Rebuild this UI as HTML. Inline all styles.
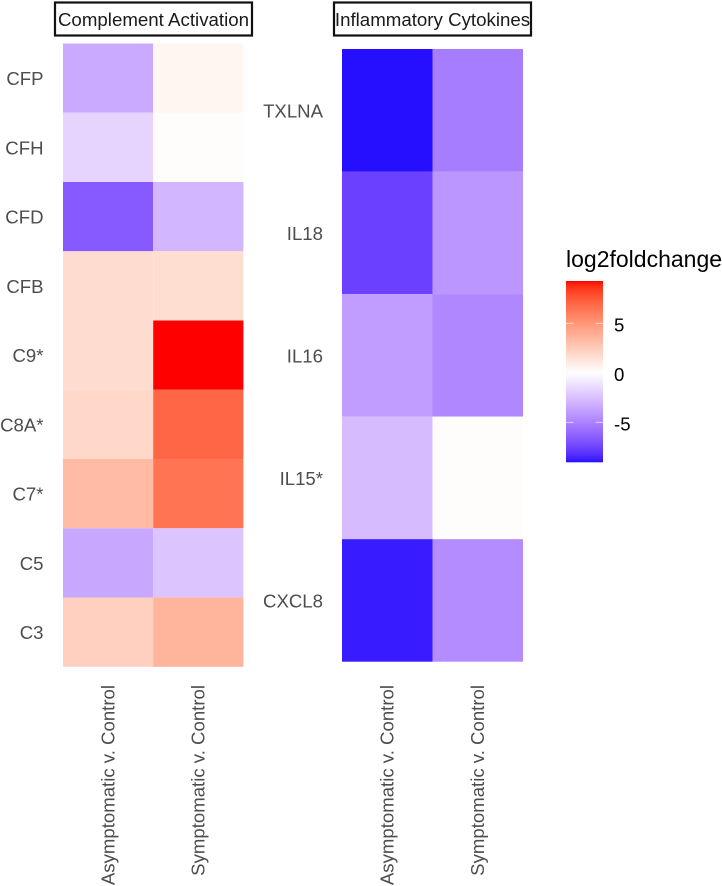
<!DOCTYPE html>
<html lang="en">
<head>
<meta charset="utf-8">
<title>Complement Activation and Inflammatory Cytokines heatmap</title>
<style>
  html, body { margin: 0; padding: 0; background: #fff; }
  #chart { display: block; width: 722px; height: 886px; font-family: "Liberation Sans", Arial, sans-serif; }
</style>
</head>
<body>
<svg id="chart" xmlns="http://www.w3.org/2000/svg" width="722" height="886" viewBox="0 0 722 886"></svg>
<script>
const comparisons = ['Asymptomatic v. Control', 'Symptomatic v. Control'];
const complementGenes = ['CFP', 'CFH', 'CFD', 'CFB', 'C9*', 'C8A*', 'C7*', 'C5', 'C3'];
const complementAsymptomatic = [-3.4, -1.7, -6.6, 1.7, 1.7, 1.9, 3.3, -3.5, 2.3];
const complementSymptomatic = [0.5, 0.1, -2.9, 1.6, 9.27, 7.0, 6.4, -2.3, 3.6];
const cytokineGenes = ['TXLNA', 'IL18', 'IL16', 'IL15*', 'CXCL8'];
const cytokineAsymptomatic = [-9.04, -7.6, -3.9, -2.7, -8.8];
const cytokineSymptomatic = [-5.2, -4.2, -4.8, 0.1, -4.6];
const legendTicks = [5, 0, -5];
const legendMin = -9.04;
const legendMax = 9.27;

const NS = 'http://www.w3.org/2000/svg';
const svg = document.getElementById('chart');

function make(tag, attrs, parent) {
  const el = document.createElementNS(NS, tag);
  for (const k in attrs) el.setAttribute(k, attrs[k]);
  (parent || svg).appendChild(el);
  return el;
}

/* Lab interpolation, like scale_fill_gradient2(low="blue", mid="white", high="red") */
function srgbToLab(c) {
  const lin = c.map(v => { v /= 255; return v <= 0.04045 ? v / 12.92 : Math.pow((v + 0.055) / 1.055, 2.4); });
  const X = (0.4124564 * lin[0] + 0.3575761 * lin[1] + 0.1804375 * lin[2]) / 0.95047;
  const Y = 0.2126729 * lin[0] + 0.7151522 * lin[1] + 0.0721750 * lin[2];
  const Z = (0.0193339 * lin[0] + 0.1191920 * lin[1] + 0.9503041 * lin[2]) / 1.08883;
  const f = t => t > 0.008856 ? Math.cbrt(t) : 7.787 * t + 16 / 116;
  return [116 * f(Y) - 16, 500 * (f(X) - f(Y)), 200 * (f(Y) - f(Z))];
}
function labToCss(l) {
  const fy = (l[0] + 16) / 116, fx = fy + l[1] / 500, fz = fy - l[2] / 200;
  const g = t => t * t * t > 0.008856 ? t * t * t : (t - 16 / 116) / 7.787;
  const X = g(fx) * 0.95047, Y = g(fy), Z = g(fz) * 1.08883;
  const rgb = [
    3.2404542 * X - 1.5371385 * Y - 0.4985314 * Z,
    -0.9692660 * X + 1.8760108 * Y + 0.0415560 * Z,
    0.0556434 * X - 0.2040259 * Y + 1.0572252 * Z
  ].map(v => {
    v = Math.max(0, Math.min(1, v));
    v = v <= 0.0031308 ? 12.92 * v : 1.055 * Math.pow(v, 1 / 2.4) - 0.055;
    return Math.round(v * 255);
  });
  return 'rgb(' + rgb.join(',') + ')';
}
const labLow = srgbToLab([0, 0, 255]);
const labMid = srgbToLab([255, 255, 255]);
const labHigh = srgbToLab([255, 0, 0]);
const maxAbs = Math.max(Math.abs(legendMin), Math.abs(legendMax));
function fillScale(v) {
  const t = Math.max(-1, Math.min(1, v / maxAbs));
  const end = t < 0 ? labLow : labHigh;
  const a = Math.abs(t);
  return labToCss(labMid.map((m, i) => m + (end[i] - m) * a));
}

function makeBandScale(start, end, count) {
  const step = (end - start) / count;
  return { step: step, at: i => start + i * step, mid: i => start + (i + 0.5) * step };
}

function drawPanel(title, genes, seriesList, box, titleBox, labelRight) {
  const xScale = makeBandScale(box.left, box.right, comparisons.length);
  const yScale = makeBandScale(box.top, box.bottom, genes.length);

  const strip = make('rect', { x: titleBox.x, y: titleBox.y, width: titleBox.w, height: titleBox.h, fill: '#fff', stroke: '#111', 'stroke-width': 2.2 });
  
  
  const head = make('text', { x: titleBox.x + titleBox.w / 2, y: titleBox.y + 23.3, 'text-anchor': 'middle', 'font-size': 18.7, fill: '#1a1a1a' });
  head.textContent = title;
  
  

  seriesList.forEach((values, col) => {
    values.forEach((value, row) => {
      const cell = make('rect', {
        x: xScale.at(col), y: yScale.at(row),
        width: xScale.step, height: yScale.step,
        fill: fillScale(value)
      });
      
      
    });
  });

  genes.forEach((gene, row) => {
    const label = make('text', { x: labelRight, y: yScale.mid(row) + 7, 'text-anchor': 'end', 'font-size': 18.6, fill: '#4d4d4d' });
    label.textContent = gene;
    
    
  });

  comparisons.forEach((name, col) => {
    const cx = xScale.mid(col) + 6.2;
    const label = make('text', { transform: 'translate(' + cx + ',685) rotate(-90)', 'text-anchor': 'end', 'font-size': 18.6, fill: '#4d4d4d' });
    label.textContent = name;
    
    
  });
}

const background = make('rect', { x: 0, y: 0, width: 722, height: 886, fill: '#fff' });



drawPanel('Complement Activation', complementGenes, [complementAsymptomatic, complementSymptomatic],
  { left: 63, right: 243.4, top: 43.5, bottom: 666.8 }, { x: 55, y: 2.5, w: 197, h: 33 }, 43.5);
drawPanel('Inflammatory Cytokines', cytokineGenes, [cytokineAsymptomatic, cytokineSymptomatic],
  { left: 342, right: 523, top: 49, bottom: 661.7 }, { x: 334, y: 2.5, w: 197, h: 33 }, 323);

/* Legend */
const legendBox = { left: 566, right: 603, top: 281, bottom: 462.3 };
function legendY(v) {
  return legendBox.bottom - (v - legendMin) / (legendMax - legendMin) * (legendBox.bottom - legendBox.top);
}
const defs = make('defs', {});
const gradient = make('linearGradient', { id: 'legend-gradient', x1: 0, y1: 1, x2: 0, y2: 0 }, defs);
for (let i = 0; i <= 60; i++) {
  const stop = make('stop', { offset: i / 60, 'stop-color': fillScale(legendMin + (legendMax - legendMin) * i / 60) }, gradient);
}
const legendTitle = make('text', { x: 566, y: 267, 'font-size': 23, fill: '#000' });
legendTitle.textContent = 'log2foldchange';



const colorbar = make('rect', { x: legendBox.left, y: legendBox.top, width: legendBox.right - legendBox.left, height: legendBox.bottom - legendBox.top, fill: 'url(#legend-gradient)' });



legendTicks.forEach(v => {
  const y = legendY(v);
  const w = legendBox.right - legendBox.left;
  if (v !== 0) {
    const tickL = make('line', { x1: legendBox.left, x2: legendBox.left + w / 5, y1: y, y2: y, stroke: '#fff', 'stroke-width': 0.8, 'stroke-opacity': 0.8 });
    
    
    const tickR = make('line', { x1: legendBox.right - w / 5, x2: legendBox.right, y1: y, y2: y, stroke: '#fff', 'stroke-width': 0.8, 'stroke-opacity': 0.8 });
    
    
  }
  const label = make('text', { x: 614, y: y + 8, 'font-size': 18.6, fill: '#000' });
  label.textContent = String(v);
  
  
});
</script>
</body>
</html>
